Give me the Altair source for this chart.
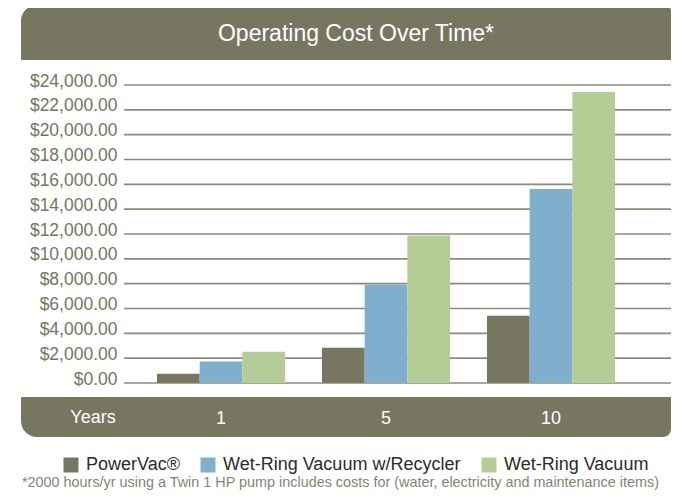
import altair as alt
import pandas as pd

# ---- data ----
years = ["1", "5", "10"]
series = ["PowerVac®", "Wet-Ring Vacuum w/Recycler", "Wet-Ring Vacuum"]
powervac = [750, 2840, 5420]
recycler = [1740, 7910, 15630]
wetring = [2520, 11870, 23440]
colors = ["#777661", "#7fafcd", "#b4cc95"]
y_ticks = list(range(0, 24001, 2000))
title_text = "Operating Cost Over Time*"
axis_title = "Years"
footnote = ("*2000 hours/yr using a Twin 1 HP pump includes costs for "
            "(water, electricity and maintenance items)")

OLIVE = "#777661"
FONT = "Liberation Sans"

rows = []
for i, yr in enumerate(years):
    for s, vals in zip(series, [powervac, recycler, wetring]):
        rows.append({"Year": yr, "Series": s, "Cost": vals[i]})
df = pd.DataFrame(rows)

W, H = 547, 298

y_scale = alt.Scale(domain=[0, 24000], nice=False)
y_axis = alt.Axis(title=None, values=y_ticks, format="$,.2f",
                  domain=False, ticks=False, grid=False,
                  labelColor="#767561", labelFont=FONT,
                  labelFontSize=17.5, labelPadding=7,
                  labelBaseline="alphabetic", labelOffset=1)

grid = alt.Chart(pd.DataFrame({"Cost": y_ticks})).mark_rule(
    color="#8c8b79", strokeWidth=1.7
).encode(y=alt.Y("Cost:Q", scale=y_scale, axis=y_axis),
         x=alt.value(0), x2=alt.value(W))

bars = alt.Chart(df).mark_bar().encode(
    x=alt.X(
        "Year:N", sort=years,
        scale=alt.Scale(range=[0, 524], paddingInner=0.224, paddingOuter=0.2),
        axis=alt.Axis(title=None, domain=False, ticks=False, grid=False,
                      labelAngle=0, labelColor="white", labelFont=FONT,
                      labelFontSize=18, labelPadding=40,
                      labelBaseline="alphabetic", zindex=1),
    ),
    xOffset=alt.XOffset("Series:N", sort=series,
                        scale=alt.Scale(paddingInner=0, paddingOuter=0)),
    y=alt.Y("Cost:Q", scale=y_scale, axis=y_axis),
    color=alt.Color(
        "Series:N", sort=series,
        scale=alt.Scale(domain=series, range=colors),
        legend=alt.Legend(orient="none", legendX=-62, legendY=371,
                          direction="horizontal", title=None,
                          symbolType="square", symbolSize=225,
                          symbolStrokeWidth=0, symbolOpacity=1,
                          labelFont=FONT, labelFontSize=18,
                          labelColor="#2b2b2b", labelOffset=6,
                          labelLimit=400, columnPadding=19, padding=0),
    ),
)

one = pd.DataFrame({"t": [title_text]})

title_bar = alt.Chart(one).mark_rect(
    color=OLIVE, cornerRadiusTopLeft=16, cornerRadiusTopRight=6
).encode(x=alt.value(-103), x2=alt.value(W), y=alt.value(-80), y2=alt.value(-25))

title_txt = alt.Chart(pd.DataFrame({"t": [title_text]})).mark_text(
    font=FONT, fontSize=23, color="white", align="center", baseline="alphabetic"
).encode(x=alt.value(232), y=alt.value(-44), text="t:N")

years_band = alt.Chart(one).mark_rect(
    color=OLIVE, cornerRadiusBottomLeft=16, cornerRadiusBottomRight=8
).encode(x=alt.value(-103), x2=alt.value(W), y=alt.value(312), y2=alt.value(352))

years_txt = alt.Chart(pd.DataFrame({"t": [axis_title]})).mark_text(
    font=FONT, fontSize=18, color="white", align="center", baseline="alphabetic"
).encode(x=alt.value(-31), y=alt.value(338), text="t:N")

foot_txt = alt.Chart(pd.DataFrame({"t": [footnote]})).mark_text(
    font=FONT, fontSize=14.4, color="#858573", align="left", baseline="alphabetic"
).encode(x=alt.value(-102), y=alt.value(402), text="t:N")

chart = alt.layer(
    title_bar, title_txt, years_band, grid, bars, years_txt, foot_txt
).properties(
    width=W, height=H,
    padding={"left": 116, "top": 77, "right": 0, "bottom": 109},
    autosize=alt.AutoSizeParams(type="none"),
    background="white",
).configure_view(stroke=None)

chart.save("out.html", embed_options={"renderer": "svg", "actions": False})
